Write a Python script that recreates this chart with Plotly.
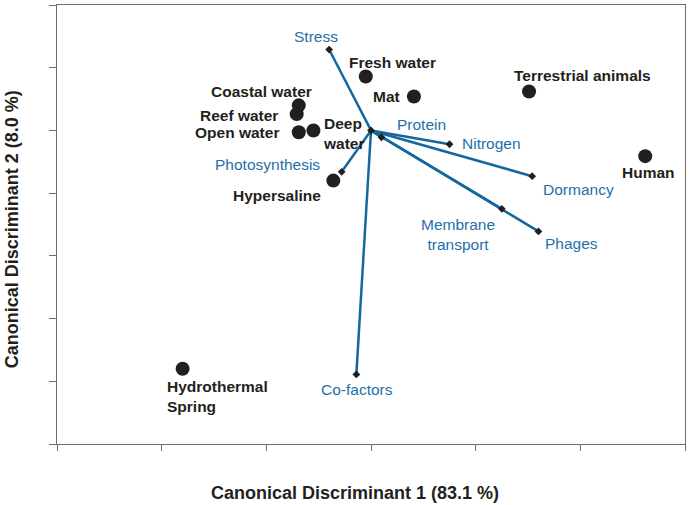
import plotly.graph_objects as go

# Canonical discriminant scores per environment (axis units, origin at centre)
sites = ["Fresh water", "Mat", "Terrestrial animals", "Human", "Coastal water",
         "Reef water", "Open water", "Deep<br>water", "Hypersaline", "Hydrothermal<br>Spring"]
site_x = [-0.05, 0.41, 1.51, 2.62, -0.69, -0.71, -0.69, -0.55, -0.36, -1.80]
site_y = [0.86, 0.54, 0.62, -0.41, 0.40, 0.26, -0.03, 0.00, -0.80, -3.80]

# Functional category loadings (vectors from origin)
vectors = ["Stress", "Photosynthesis", "Co-factors", "Protein", "Nitrogen",
           "Dormancy", "Membrane<br>transport", "Phages"]
vec_x = [-0.40, -0.28, -0.14, 0.10, 0.75, 1.54, 1.25, 1.60]
vec_y = [1.29, -0.66, -3.89, -0.11, -0.22, -0.73, -1.25, -1.61]

# label placement: (xanchor, dx px, dy px)
site_lab = [("left", -19, 14), ("right", -12, 0), ("left", -17, 16), ("center", 3, -16),
            ("right", 15, 14), ("right", -17, -1), ("right", -18, 0), ("left", 8, -3),
            ("right", -10, -15), ("left", -18, -28)]
vec_lab = [("center", -13, 13), ("right", -20, 7), ("center", 1, -15), ("left", 14, 13),
           ("left", 10, 1), ("left", 9, -13), ("center", -44, -26), ("left", 5, -12)]

FONT = "Liberation Sans, Arial, sans-serif"
BLUE_LINE = "#16679e"
BLUE_TEXT = "#1f70a8"
INK = "#231f20"

fig = go.Figure()

for vx, vy in zip(vec_x, vec_y):
    fig.add_trace(go.Scatter(x=[0, vx], y=[0, vy], mode="lines",
                             line=dict(color=BLUE_LINE, width=2.5),
                             hoverinfo="skip", showlegend=False))

fig.add_trace(go.Scatter(x=[0] + vec_x, y=[0] + vec_y, mode="markers",
                         marker=dict(symbol="diamond", size=6, color=INK),
                         hovertext=["origin"] + vectors, showlegend=False))

fig.add_trace(go.Scatter(x=site_x, y=site_y, mode="markers",
                         marker=dict(size=14, color=INK),
                         hovertext=sites, showlegend=False))

for name, x, y, (xa, dx, dy) in zip(sites, site_x, site_y, site_lab):
    fig.add_annotation(x=x, y=y, text=name, showarrow=False, xanchor=xa, yanchor="middle",
                       xshift=dx, yshift=dy, align="left" if xa == "left" else "right",
                       font=dict(family=FONT, size=15.5, color=INK, weight="bold"))

for name, x, y, (xa, dx, dy) in zip(vectors, vec_x, vec_y, vec_lab):
    fig.add_annotation(x=x, y=y, text=name, showarrow=False, xanchor=xa, yanchor="middle",
                       xshift=dx, yshift=dy, align="center",
                       font=dict(family=FONT, size=15.5, color=BLUE_TEXT))

# axis titles (placed a bit off-centre like the original)
title_font = dict(family=FONT, size=18, color=INK, weight="bold")
fig.add_annotation(text="Canonical Discriminant 1 (83.1 %)", xref="paper", yref="paper",
                   x=0.4745, y=0, yshift=-49, xanchor="center", yanchor="middle",
                   showarrow=False, font=title_font)
fig.add_annotation(text="Canonical Discriminant 2 (8.0 %)", xref="paper", yref="paper",
                   x=0, y=0.489, xshift=-45, xanchor="center", yanchor="middle",
                   textangle=-90, showarrow=False, font=title_font)

axis_common = dict(showline=True, linecolor="#6d6d6d", linewidth=1.2, mirror=True,
                   showgrid=False, zeroline=False, showticklabels=False, automargin=False,
                   ticks="outside", tickcolor="#6d6d6d", tickwidth=1.2, dtick=1)

fig.update_layout(
    width=691, height=505,
    margin=dict(l=57, r=6, t=5, b=61),
    plot_bgcolor="white", paper_bgcolor="white",
    xaxis=dict(range=[-3, 3], ticklen=6, **axis_common),
    yaxis=dict(range=[-5, 2], ticklen=7, **axis_common),
)

fig.write_html("out.html", config={"displayModeBar": False},
               post_script="document.body.style.margin='0';")
